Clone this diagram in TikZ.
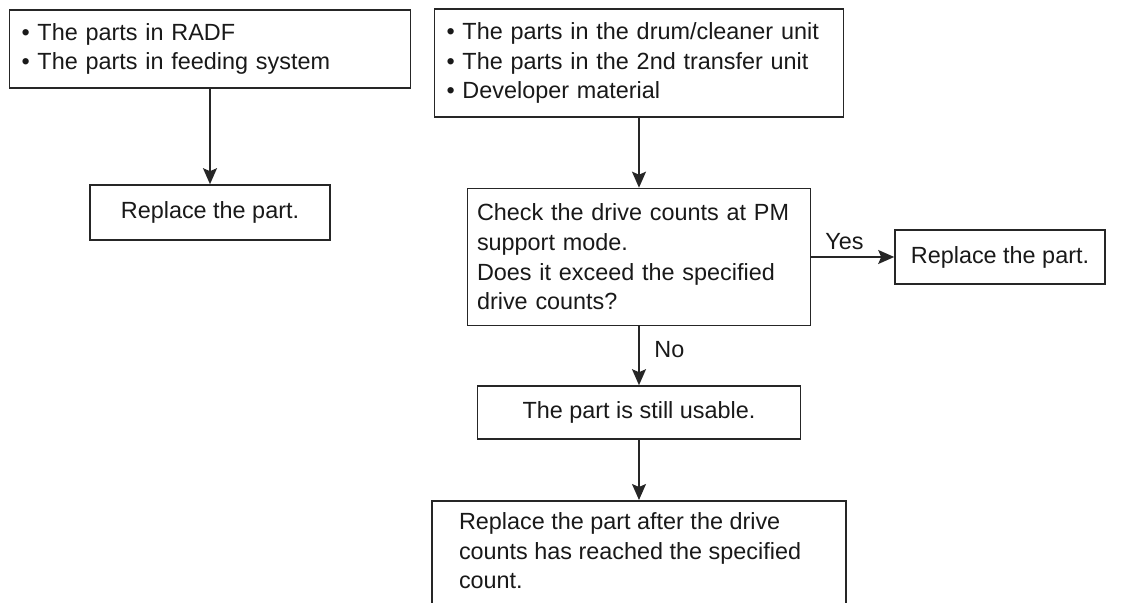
\documentclass[tikz,border=0pt]{standalone}
\usepackage{fontspec}
\setmainfont{Liberation Sans}
\usetikzlibrary{arrows.meta}

\tikzset{
  box/.style={draw=black!85, line width=0.8pt, inner xsep=6pt, inner ysep=0pt,
    align=left, text=black!90, font=\fontsize{11.7}{14.8}\selectfont},
  flow/.style={-{Stealth[length=8pt,width=7pt,inset=1.5pt]}, line width=0.7pt, draw=black!85},
  lbl/.style={text=black!90, font=\fontsize{11.7}{14.8}\selectfont}
}

\begin{document}
\begin{tikzpicture}[x=0.5pt,y=-0.5pt]
				\clip (0,0) rectangle (1131,603);
				\fill[white] (0,0) rectangle (1131,603);
				% left branch
				\node[box, minimum width=200.5pt, minimum height=39pt, text width=188.5pt] (radf) at (210,49)
					{\textbullet\ The parts in RADF\\\textbullet\ The parts in feeding system};
				\node[box, align=center, minimum width=120pt, minimum height=27.5pt] (replaceL) at (210,212.5)
					{Replace the part.};
				% right branch
				\node[box, minimum width=204.5pt, minimum height=54pt, text width=192.5pt] (drum) at (639,63)
					{\textbullet\ The parts in the drum/cleaner unit\\\textbullet\ The parts in the 2nd transfer unit\\\textbullet\ Developer material};
				\node[box, inner xsep=4.5pt, minimum width=171.5pt, minimum height=68.5pt, text width=162pt] (check) at (639,257)
					{Check the drive counts at PM\\support mode.\\Does it exceed the specified\\drive counts?};
				\node[box, align=center, minimum width=105pt, minimum height=27pt] (replaceR) at (1000,257)
					{Replace the part.};
				\node[box, align=center, minimum width=161.5pt, minimum height=26.5pt] (usable) at (639,412.5)
					{The part is still usable.};
				\node[box, anchor=north, inner xsep=13.5pt, inner ysep=6pt] (later) at (639,500)
					{\begin{minipage}[t][60pt][t]{180pt}\raggedright
					Replace the part after the drive\\counts has reached the specified\\count.
					\end{minipage}};
				% connectors
				\draw[flow] (radf) -- (replaceL);
				\draw[flow] (drum) -- (check);
				\draw[flow] (check) -- node[lbl, above, pos=0.4] {Yes} (replaceR);
				\draw[flow] (check) -- node[lbl, right=4pt, pos=0.4] {No} (usable);
				\draw[flow] (usable) -- (later);
			\end{tikzpicture}
\end{document}
